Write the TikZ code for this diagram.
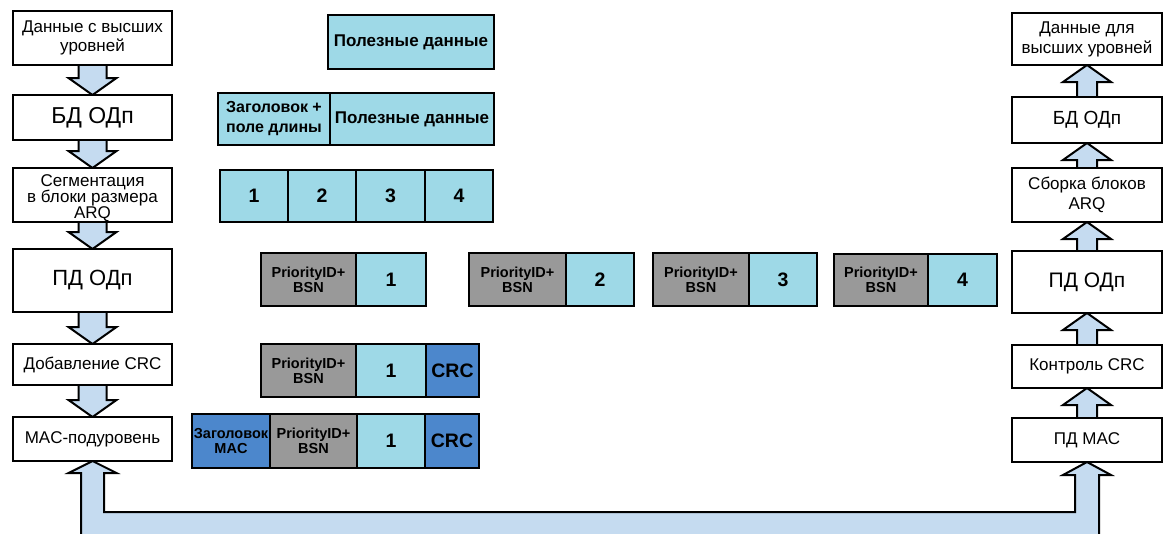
\documentclass[tikz,border=0pt]{standalone}
\usepackage{fontspec}
\setmainfont{Liberation Sans}
\usetikzlibrary{calc}
\pgfdeclarelayer{bg}
\pgfsetlayers{bg,main}
\definecolor{cy}{RGB}{158,217,231}
\definecolor{gr}{RGB}{153,153,153}
\definecolor{db}{RGB}{76,135,204}
\definecolor{ab}{RGB}{197,219,240}
\newcommand\fs[2]{\fontsize{#1}{#2}\selectfont}
\tikzset{
  every node/.style={inner sep=0pt, outer sep=0pt, align=center},
  lbox/.style={draw=black, line width=2.2pt, fill=white, font=\fs{17}{19}},
  pkt/.style={draw=black, line width=2.6pt, font=\bfseries\fs{17}{19}},
  cyb/.style={pkt, fill=cy},
  grb/.style={pkt, fill=gr, font=\bfseries\fs{14.5}{15}},
  dbb/.style={pkt, fill=db},
  num/.style={font=\bfseries\fs{19.5}{20}},
  blockarr/.style={draw=black, line width=2pt, fill=ab, line join=miter},
}
\newcommand\pk[7]{\node[#2, minimum width={(#5-#3)*1pt}, minimum height={(#6-#4)*1pt}] (#1) at ({(#3+#5)/2},{(#4+#6)/2}) {#7};}
\newcommand\darr[2]{\draw[blockarr] ($(#1.south)+(-14,0)$) -- ($(#2.north)+(-14,-17)$) -- ($(#2.north)+(-24,-17)$) -- (#2.north) -- ($(#2.north)+(24,-17)$) -- ($(#2.north)+(14,-17)$) -- ($(#1.south)+(14,0)$);}
\newcommand\uarr[2]{\draw[blockarr] ($(#1.north)+(-10,0)$) -- ($(#2.south)+(-10,17)$) -- ($(#2.south)+(-24,17)$) -- (#2.south) -- ($(#2.south)+(24,17)$) -- ($(#2.south)+(10,17)$) -- ($(#1.north)+(10,0)$);}
\begin{document}
\begin{tikzpicture}[x=1pt,y=-1pt]
\useasboundingbox (0,0) rectangle (1164,533);
% left column
\pk{L1}{lbox}{13}{11}{172}{65}{Данные с высших\\уровней}
\pk{L2}{lbox,font=\fs{23}{25}}{13}{95}{172}{140}{БД ОДп}
\pk{L3}{lbox}{13}{168}{172}{222}{}
\node[font=\fs{17}{16}] (L3t) at ($(L3)+(0,3)$) {Сегментация\\в блоки размера\\ARQ};
\pk{L4}{lbox,font=\fs{22}{24}}{13}{249}{172}{312}{ПД ОДп}
\pk{L5}{lbox}{13}{344}{172}{385}{Добавление CRC}
\pk{L6}{lbox}{13}{417}{172}{461}{MAC-подуровень}
% right column
\pk{R1}{lbox,font=\fs{17}{20}}{1012}{13}{1162}{65}{Данные для\\высших уровней}
\pk{R2}{lbox,font=\fs{19}{21}}{1012}{97}{1162}{143}{БД ОДп}
\pk{R3}{lbox,font=\fs{17}{20}}{1012}{168}{1162}{222}{Сборка блоков\\ARQ}
\pk{R4}{lbox,font=\fs{21}{23}}{1012}{251}{1162}{313}{ПД ОДп}
\pk{R5}{lbox}{1012}{345}{1162}{388}{Контроль CRC}
\pk{R6}{lbox}{1012}{418}{1162}{462}{ПД MAC}
% packets
\pk{P1}{cyb}{328}{15}{494}{69}{Полезные данные}
\pk{P2a}{cyb,font=\bfseries\fs{16}{20}}{218}{93}{330}{145}{Заголовок +\\поле длины}
\pk{P2b}{cyb}{330}{93}{494}{145}{Полезные данные}
\pk{S1}{cyb,num}{220}{170}{288}{222}{1}
\pk{S2}{cyb,num}{288}{170}{356}{222}{2}
\pk{S3}{cyb,num}{356}{170}{425}{222}{3}
\pk{S4}{cyb,num}{425}{170}{493}{222}{4}
\pk{A1h}{grb}{261}{253}{356}{306}{PriorityID+\\BSN}
\pk{A1d}{cyb,num}{356}{253}{426}{306}{1}
\pk{A2h}{grb}{469}{253}{566}{306}{PriorityID+\\BSN}
\pk{A2d}{cyb,num}{566}{253}{634}{306}{2}
\pk{A3h}{grb}{653}{253}{749}{306}{PriorityID+\\BSN}
\pk{A3d}{cyb,num}{749}{253}{817}{306}{3}
\pk{A4h}{grb}{834}{254}{928}{306}{PriorityID+\\BSN}
\pk{A4d}{cyb,num}{928}{254}{997}{306}{4}
\pk{B1h}{grb}{261}{344}{356}{397}{PriorityID+\\BSN}
\pk{B1d}{cyb,num}{356}{344}{426}{397}{1}
\pk{B1c}{dbb,num}{426}{344}{479}{397}{CRC}
\pk{C0}{dbb,font=\bfseries\fs{14.5}{15}}{192}{414}{270}{468}{Заголовок\\MAC}
\pk{C1h}{grb}{270}{414}{357}{468}{PriorityID+\\BSN}
\pk{C1d}{cyb,num}{357}{414}{425}{468}{1}
\pk{C1c}{dbb,num}{425}{414}{479}{468}{CRC}
% arrows
\begin{pgfonlayer}{bg}
\darr{L1}{L2}
\darr{L2}{L3}
\darr{L3}{L4}
\darr{L4}{L5}
\darr{L5}{L6}
\uarr{R2}{R1}
\uarr{R3}{R2}
\uarr{R4}{R3}
\uarr{R5}{R4}
\uarr{R6}{R5}
\begin{scope}
\clip (0,0) rectangle (1164,533);
\draw[blockarr] ($(L6.south)+(-11.5,80)$) -- ($(L6.south)+(-11.5,12)$) -- ($(L6.south)+(-24,12)$) -- (L6.south) -- ($(L6.south)+(24,12)$) -- ($(L6.south)+(11.5,12)$) -- ($(L6.south)+(11.5,51)$) -- ($(R6.south)+(-12,50)$) -- ($(R6.south)+(-12,13)$) -- ($(R6.south)+(-24,13)$) -- (R6.south) -- ($(R6.south)+(24,13)$) -- ($(R6.south)+(12,13)$) -- ($(R6.south)+(12,80)$) -- cycle;
\end{scope}
\end{pgfonlayer}
\end{tikzpicture}
\end{document}
